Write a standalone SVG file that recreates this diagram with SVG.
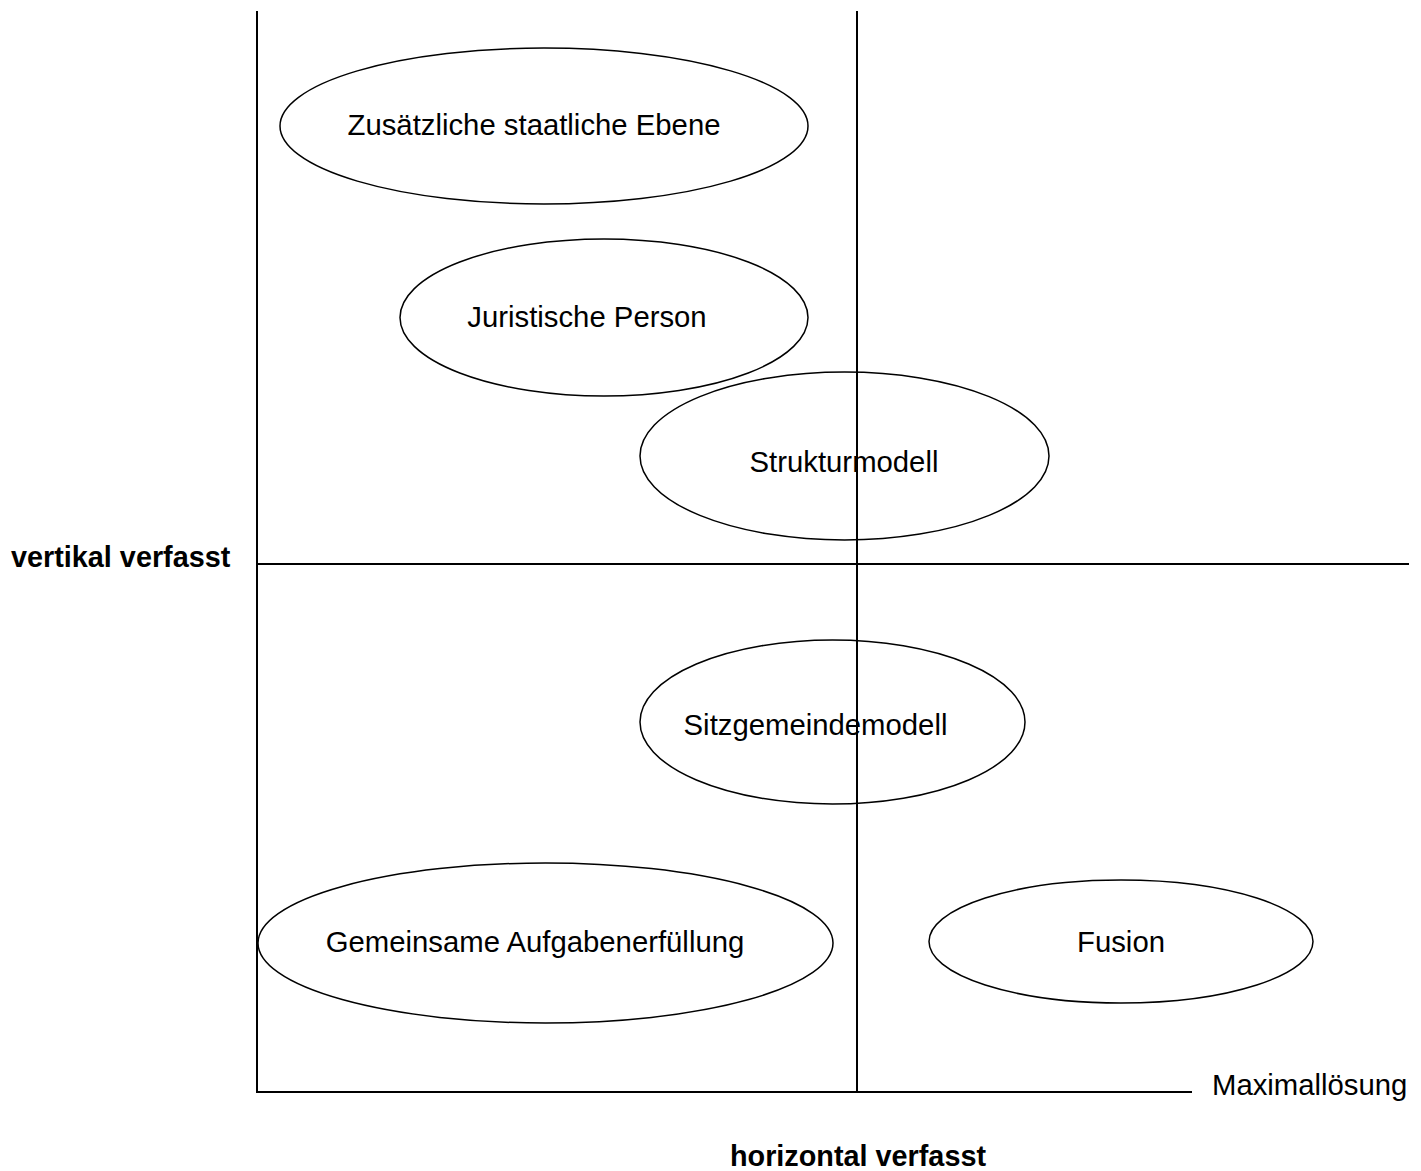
<svg xmlns="http://www.w3.org/2000/svg" width="1421" height="1171" viewBox="0 0 1421 1171">
<style>
.ax{stroke:#000;stroke-width:2;fill:none}
.el{stroke:#000;stroke-width:1.5;fill:none}
.t{font-family:"Liberation Sans",Arial,sans-serif;font-size:29.3px;fill:#000;text-anchor:middle}
.s{text-anchor:start}
.b{font-family:"Liberation Sans",Arial,sans-serif;font-size:28.8px;font-weight:bold;fill:#000}
.m{text-anchor:middle}
</style>
<rect width="1421" height="1171" fill="#fff"/>
<g id="nodes">
<g id="n1"><ellipse class="el" cx="544" cy="126" rx="264" ry="78"/><text class="t" x="534" y="135">Zusätzliche staatliche Ebene</text></g>
<g id="n2"><ellipse class="el" cx="604" cy="317.5" rx="204" ry="78.5"/><text class="t" x="587" y="327">Juristische Person</text></g>
<g id="n3"><ellipse class="el" cx="844.5" cy="456" rx="204.5" ry="84"/><text class="t" x="844" y="472">Strukturmodell</text></g>
<g id="n4"><ellipse class="el" cx="832.5" cy="722" rx="192.5" ry="82"/><text class="t" x="815.5" y="735">Sitzgemeindemodell</text></g>
<g id="n5"><ellipse class="el" cx="545.5" cy="943" rx="287.5" ry="80"/><text class="t" x="535" y="952">Gemeinsame Aufgabenerfüllung</text></g>
<g id="n6"><ellipse class="el" cx="1121" cy="941.5" rx="192" ry="61.5"/><text class="t" x="1121" y="952">Fusion</text></g>
</g>
<g id="connectors">
<line class="ax" x1="257" y1="11" x2="257" y2="1093"/>
<line class="ax" x1="857" y1="11" x2="857" y2="1093"/>
<line class="ax" x1="257" y1="564" x2="1409" y2="564"/>
<line class="ax" x1="256" y1="1092" x2="1192" y2="1092"/>
</g>
<rect x="0" y="516" width="256" height="73" fill="#fff"/>
<text class="b" x="11" y="567">vertikal verfasst</text>
<text class="b m" x="858" y="1166">horizontal verfasst</text>
<text class="t s" x="1212" y="1095">Maximallösung</text>
</svg>
